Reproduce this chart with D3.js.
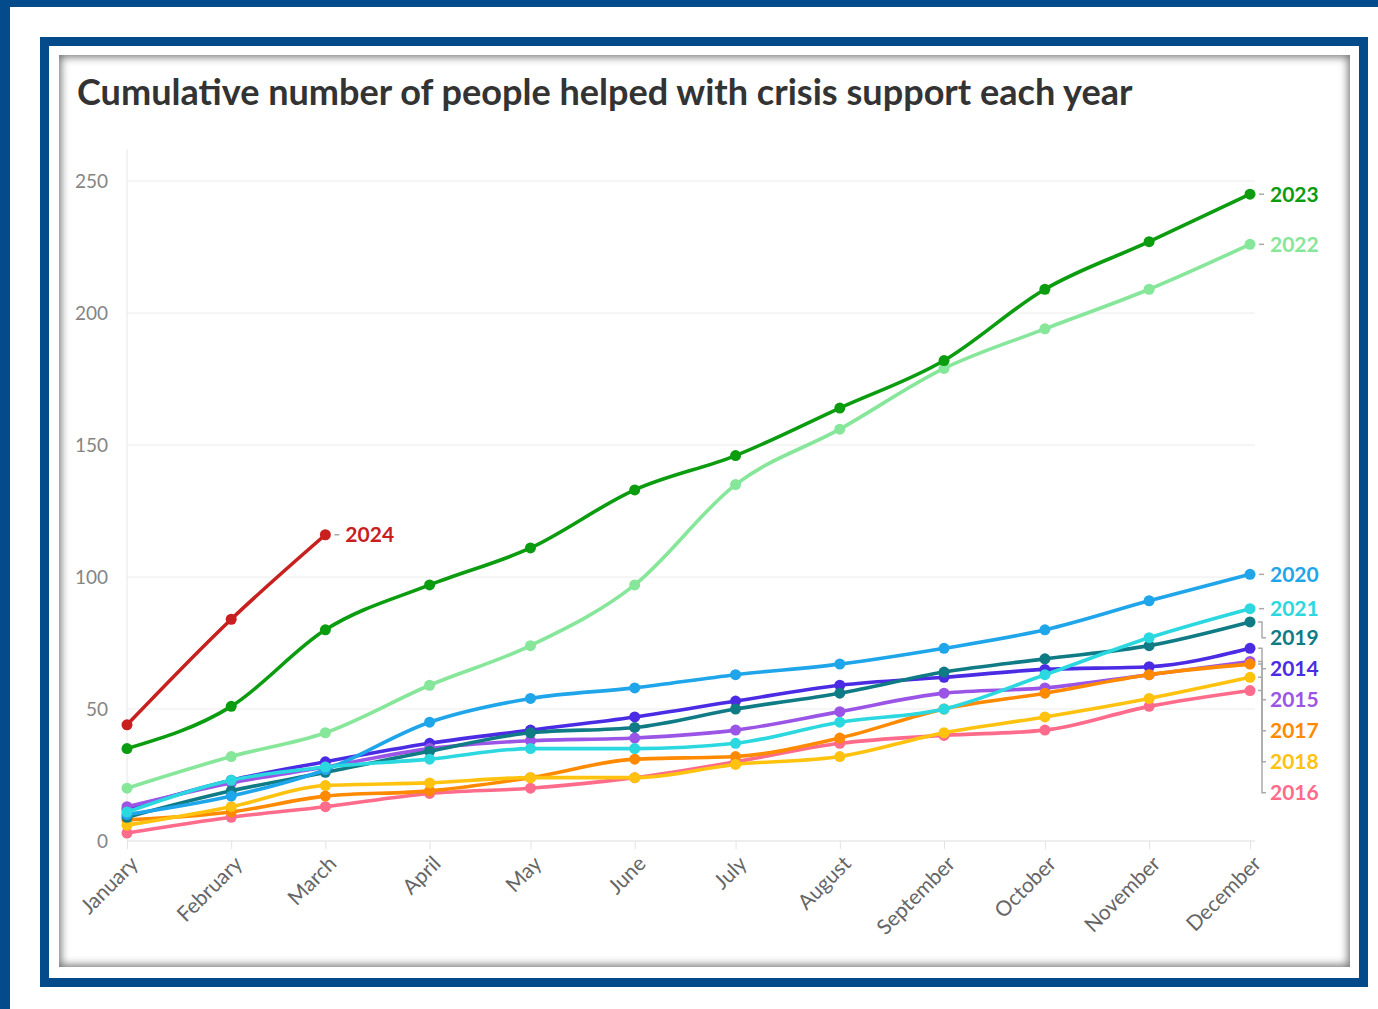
<!DOCTYPE html>
<html>
<head>
<meta charset="utf-8">
<script src="https://cdn.jsdelivr.net/npm/d3@7"></script>
<style>
  body { margin: 0; background: #fff; font-family: Lato, "Noto Sans", sans-serif; }
  #page { position: relative; width: 1378px; height: 1009px; overflow: hidden; }
  .band { position: absolute; background: #044b8b; }
  #frame { position: absolute; left: 40px; top: 37px; width: 1328px; height: 950px;
           border: 9px solid #044b8b; box-sizing: border-box; }
  #panel { position: absolute; left: 59px; top: 55px; width: 1291px; height: 912px;
           background: #fff; box-shadow: inset 0 0 9px 2px rgba(0,0,0,0.55); }
  svg { position: absolute; left: 0; top: 0; }
</style>
</head>
<body>
<div id="page">
  <div class="band" style="left:0;top:0;width:1378px;height:7px"></div>
  <div class="band" style="left:0;top:0;width:10px;height:1009px"></div>
  <div id="frame"></div>
  <div id="panel"></div>
</div>
<script>
// Chart data
var months = ["January", "February", "March", "April", "May", "June",
              "July", "August", "September", "October", "November", "December"];
var years = ["2014", "2015", "2016", "2017", "2018", "2019", "2020", "2021", "2022", "2023", "2024"];

var v2014 = [12, 23, 30, 37, 42, 47, 53, 59, 62, 65, 66, 73];
var v2015 = [13, 22, 28, 35, 38, 39, 42, 49, 56, 58, 63, 68];
var v2016 = [3, 9, 13, 18, 20, 24, 30, 37, 40, 42, 51, 57];
var v2017 = [8, 11, 17, 19, 24, 31, 32, 39, 50, 56, 63, 67];
var v2018 = [6, 13, 21, 22, 24, 24, 29, 32, 41, 47, 54, 62];
var v2019 = [9, 19, 26, 34, 41, 43, 50, 56, 64, 69, 74, 83];
var v2020 = [10, 17, 27, 45, 54, 58, 63, 67, 73, 80, 91, 101];
var v2021 = [11, 23, 28, 31, 35, 35, 37, 45, 50, 63, 77, 88];
var v2022 = [20, 32, 41, 59, 74, 97, 135, 156, 179, 194, 209, 226];
var v2023 = [35, 51, 80, 97, 111, 133, 146, 164, 182, 209, 227, 245];
var v2024 = [44, 84, 116];

var yTicks = [0, 50, 100, 150, 200, 250];

var colors = {
    "2014": "#4b2be3", "2015": "#9b55e6", "2016": "#ff6b8b", "2017": "#ff8a00",
    "2018": "#ffc20e", "2019": "#0f7b85", "2020": "#1fa5ea", "2021": "#2bd8e0",
    "2022": "#86e699", "2023": "#0c9c10", "2024": "#c8201f"
};

var values = {
    "2014": v2014, "2015": v2015, "2016": v2016, "2017": v2017, "2018": v2018,
    "2019": v2019, "2020": v2020, "2021": v2021, "2022": v2022, "2023": v2023, "2024": v2024
};

// build series
var series = years.map(function(yr) {
    return {
        year: yr,
        points: values[yr].map(function(v, i) { return { date: new Date(2023, i, 1), value: v }; })
    };
});

var svg = d3.select("#page").append("svg")
    .attr("width", 1378)
    .attr("height", 1009);

// scales
var x = d3.scaleTime()
    .domain([new Date(2023, 0, 1), new Date(2023, 11, 1)])
    .range([127, 1250]);

var y = d3.scaleLinear()
    .domain([0, 250])
    .range([841, 181]);

// title, fitted to the width it has in the original
var title = svg.append("text")
    .attr("x", 77)
    .attr("y", 105)
    .attr("fill", "#333")
    .style("font-weight", "bold")
    .style("font-size", "28px")
    .text("Cumulative number of people helped with crisis support each year");
var tw = title.node().getComputedTextLength();
title.style("font-size", (28 * 1056 / tw) + "px");

// grid lines
svg.append("g")
    .selectAll("line")
    .data(yTicks)
    .enter().append("line")
    .attr("x1", x.range()[0])
    .attr("x2", x.range()[1] + 5)
    .attr("y1", function(d) { return y(d); })
    .attr("y2", function(d) { return y(d); })
    .attr("stroke", function(d) { return d === 0 ? "#ddd" : "#ececec"; })
    .attr("stroke-width", 1);

// vertical axis line
svg.append("line")
    .attr("x1", x.range()[0]).attr("x2", x.range()[0])
    .attr("y1", y(262)).attr("y2", y(0))
    .attr("stroke", "#e6e6e6");

// y axis labels
var yAxis = svg.append("g")
    .attr("transform", "translate(" + (x.range()[0] - 16) + ",0)")
    .call(d3.axisLeft(y).tickValues(yTicks).tickSize(0));
yAxis.select(".domain").remove();
yAxis.selectAll("text")
    .attr("fill", "#858585")
    .style("font-family", "Lato, 'Noto Sans', sans-serif")
    .style("font-size", "19px");

// x axis
var xAxis = svg.append("g")
    .attr("transform", "translate(0," + y(0) + ")")
    .call(d3.axisBottom(x)
        .tickValues(months.map(function(m, i) { return new Date(2023, i, 1); }))
        .tickFormat(function(d) { return months[d.getMonth()]; })
        .tickSize(8));
xAxis.select(".domain").remove();
xAxis.selectAll("line").attr("stroke", "#e2e2e2");
xAxis.selectAll("text")
    .attr("fill", "#666")
    .style("font-family", "Lato, 'Noto Sans', sans-serif")
    .style("font-size", "21px")
    .attr("text-anchor", "end")
    .attr("dy", null)
    .attr("y", 0)
    .attr("transform", "translate(12,24) rotate(-45)");

// lines
var line = d3.line()
    .x(function(d) { return x(d.date); })
    .y(function(d) { return y(d.value); })
    .curve(d3.curveMonotoneX);

var groups = svg.selectAll(".series")
    .data(series)
    .enter().append("g")
    .attr("class", "series");

groups.append("path")
    .attr("d", function(d) { return line(d.points); })
    .attr("fill", "none")
    .attr("stroke", function(d) { return colors[d.year]; })
    .attr("stroke-width", 3.6)
    .attr("stroke-linejoin", "round");

groups.selectAll("circle")
    .data(function(d) { return d.points.map(function(p) { return { p: p, year: d.year }; }); })
    .enter().append("circle")
    .attr("cx", function(d) { return x(d.p.date); })
    .attr("cy", function(d) { return y(d.p.value); })
    .attr("r", 5.5)
    .attr("fill", function(d) { return colors[d.year]; });

// end labels: push down so they don't overlap
var ends = series.map(function(s) {
    var last = s.points[s.points.length - 1];
    return { year: s.year, px: x(last.date), py: y(last.value) };
});
var rightEnds = ends.filter(function(e) { return e.year !== "2024"; })
    .sort(function(a, b) { return a.py - b.py; });
var prev = -1000;
rightEnds.forEach(function(e) {
    e.ly = Math.max(e.py, prev + 31);
    prev = e.ly;
});
// nudge the pushed run up a little, as in the original
rightEnds.forEach(function(e) { if (e.ly - e.py > 2) e.ly -= 2; });
ends.forEach(function(e) { if (e.ly === undefined) e.ly = e.py; });

svg.append("g").selectAll("path")
    .data(ends)
    .enter().append("path")
    .attr("d", function(e) {
        if (Math.abs(e.ly - e.py) < 2) {
            return "M" + (e.px + 9) + "," + e.py + "H" + (e.px + 14);
        }
        return "M" + (e.px + 8) + "," + e.py + "H" + (e.px + 12) + "V" + e.ly + "H" + (e.px + 16);
    })
    .attr("fill", "none")
    .attr("stroke", "#aaa")
    .attr("stroke-width", 1.5);

svg.append("g").selectAll("text")
    .data(ends)
    .enter().append("text")
    .attr("x", function(e) { return e.px + 20; })
    .attr("y", function(e) { return e.ly; })
    .attr("dy", "0.35em")
    .attr("fill", function(e) { return colors[e.year]; })
    .style("font-weight", "bold")
    .style("font-size", "21px")
    .text(function(e) { return e.year; });
</script>
</body>
</html>
